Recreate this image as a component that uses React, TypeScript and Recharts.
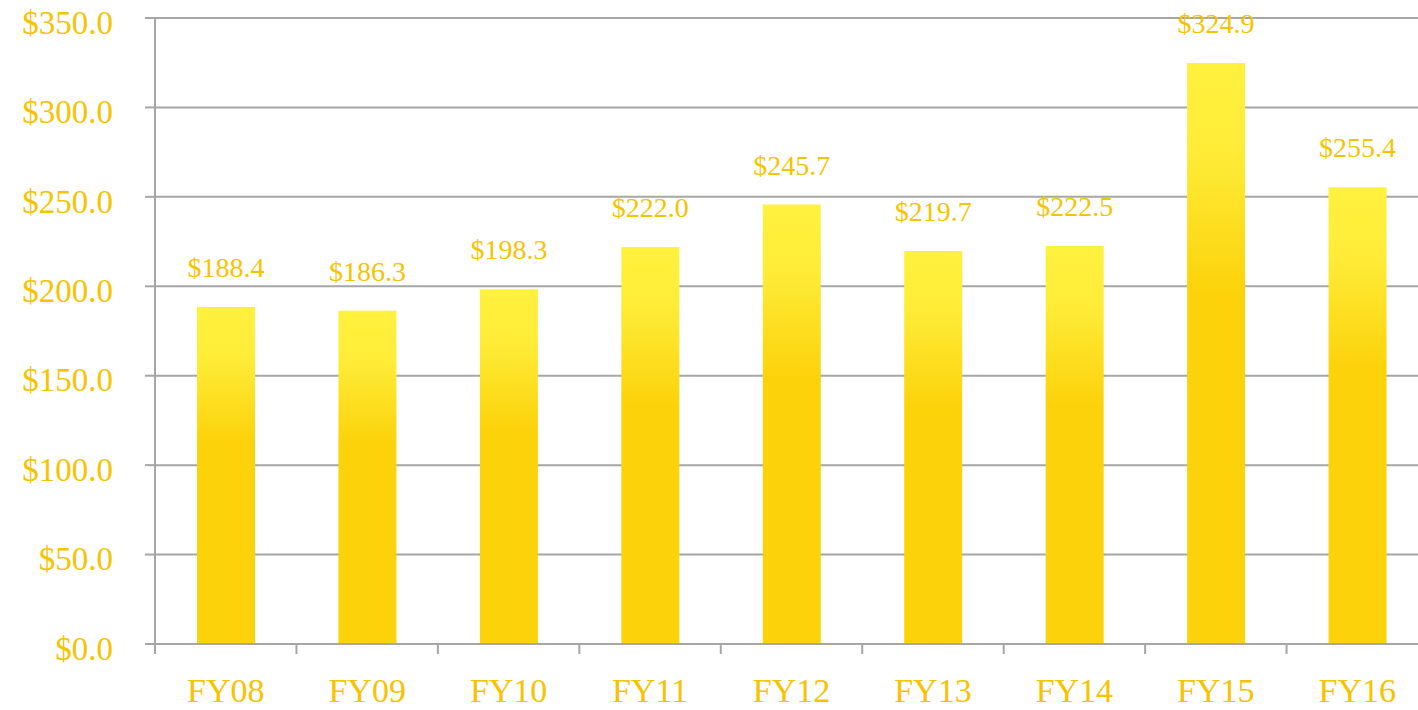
import { BarChart, Bar, XAxis, YAxis, CartesianGrid, LabelList } from "recharts";

const years = ["FY08", "FY09", "FY10", "FY11", "FY12", "FY13", "FY14", "FY15", "FY16"];
const amounts = [188.4, 186.3, 198.3, 222.0, 245.7, 219.7, 222.5, 324.9, 255.4];
const yTicks = [0, 50, 100, 150, 200, 250, 300, 350];

const data = years.map((year, i) => ({ year, amount: amounts[i] }));

const GOLD = "#F6C300";
const GRID = "#A6A6A6";
const FONT = "'Liberation Serif', 'DejaVu Serif', serif";

const W = 1418;
const H = 710;
// plot runs a little past the right edge of the frame, as in the original
const CHART_W = 1428;
const Y_AXIS_W = 155;
const TICK_SIZE = 10;
const X_TICK_MARGIN = 24;

const money = (v: number) => `$${v.toFixed(1)}`;

// x-axis tick: label at the category centre, tick mark at the category's left edge
function CategoryTick(props: any) {
  const { x, y, payload } = props;
  const band = (CHART_W - Y_AXIS_W) / years.length;
  const axisY = y - TICK_SIZE - X_TICK_MARGIN;
  const edge = x - band / 2;
  return (
    <g>
      <line x1={edge} y1={axisY} x2={edge} y2={axisY + TICK_SIZE} stroke={GRID} strokeWidth={2} />
      <text x={x} y={y} dy="0.71em" textAnchor="middle" fill={GOLD} fontSize={34} fontFamily={FONT}>
        {payload.value}
      </text>
    </g>
  );
}

export default function App() {
  return (
    <div
      style={{
        position: "absolute",
        left: 0,
        top: 0,
        width: W,
        height: H,
        overflow: "hidden",
        background: "#fff",
      }}
    >
      <BarChart
        width={CHART_W}
        height={H}
        data={data}
        margin={{ top: 18, right: 0, left: 0, bottom: 0 }}
        barSize={58}
      >
        <defs>
          <linearGradient id="barFill" x1="0" y1="0" x2="0" y2="1">
            <stop offset="0" stopColor="#FFF13E" />
            <stop offset="0.15" stopColor="#FEEC38" />
            <stop offset="0.4" stopColor="#FCD20A" />
            <stop offset="1" stopColor="#FCD20A" />
          </linearGradient>
        </defs>
        <CartesianGrid vertical={false} stroke={GRID} strokeWidth={2} />
        <XAxis
          dataKey="year"
          height={66}
          axisLine={{ stroke: GRID, strokeWidth: 2 }}
          tickLine={false}
          tickSize={TICK_SIZE}
          tickMargin={X_TICK_MARGIN}
          interval={0}
          tick={<CategoryTick />}
        />
        <YAxis
          width={Y_AXIS_W}
          domain={[0, 350]}
          ticks={yTicks}
          tickFormatter={money}
          axisLine={{ stroke: GRID, strokeWidth: 2 }}
          tickLine={{ stroke: GRID, strokeWidth: 2 }}
          tickSize={TICK_SIZE}
          tickMargin={32}
          tick={{ fill: GOLD, fontSize: 33, fontFamily: FONT, dy: 4 }}
        />
        <Bar dataKey="amount" fill="url(#barFill)" isAnimationActive={false}>
          <LabelList
            dataKey="amount"
            position="top"
            offset={30}
            formatter={(v: any) => money(Number(v))}
            style={{ fill: GOLD, fontSize: 28, fontFamily: FONT }}
          />
        </Bar>
      </BarChart>
    </div>
  );
}
